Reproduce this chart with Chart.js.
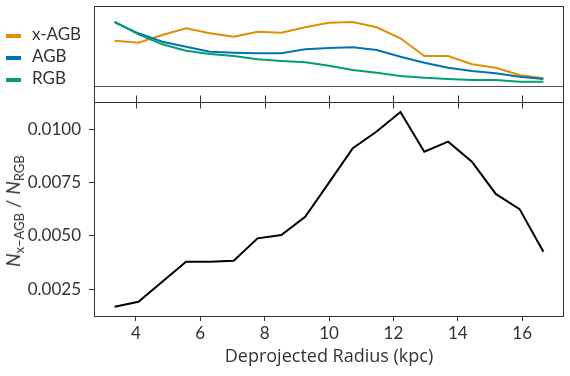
<!DOCTYPE html>
<html>
<head>
<meta charset="utf-8">
<script src="https://cdn.jsdelivr.net/npm/chart.js@4.4.0/dist/chart.umd.min.js"></script>
<style>
  html, body { margin: 0; padding: 0; background: #fff; }
  #wrap { position: relative; width: 570px; height: 376px; font-family: Lato, sans-serif; color: #333; }
  #chart { position: absolute; left: 0; top: 0; }
  .legend-item { position: absolute; left: 6px; height: 22px; line-height: 22px; font-size: 17px; white-space: nowrap; }
  .legend-item .swatch { display: inline-block; width: 15px; height: 4px; vertical-align: middle; margin-right: 11px; }
  #ylabel { position: absolute; left: 14px; top: 211px; transform: translate(-50%, -50%) rotate(-90deg); white-space: nowrap; font-size: 19px; }
  #ylabel sub { font-size: 13px; vertical-align: -4px; }
</style>
</head>
<body>
<div id="wrap">
  <canvas id="chart" width="570" height="376"></canvas>
  <div id="legend"></div>
  <div id="ylabel"><i>N</i><sub>x−AGB</sub> / <i>N</i><sub>RGB</sub></div>
</div>
<script>
// radial bins (kpc)
const radii = [3.34, 4.08, 4.82, 5.56, 6.30, 7.04, 7.78, 8.52, 9.26, 10.00,
               10.74, 11.48, 12.22, 12.96, 13.70, 14.44, 15.18, 15.92, 16.66];

// top panel: relative counts per bin (arbitrary units, 0 = reference line)
const xagbCounts = [45.3, 43.3, 51, 57.7, 52.7, 49.3, 54.3, 53.3, 58.7, 63.3,
                    64, 58.7, 47.7, 30, 30, 21.7, 18.3, 11, 7.7];
const agbCounts  = [63.7, 52.7, 44.3, 39.3, 34.3, 33.3, 32.7, 32.7, 36.7, 38,
                    38.7, 36, 29.3, 23.3, 18.3, 15, 12.7, 9.3, 7];
const rgbCounts  = [64.3, 51.7, 41.7, 35.3, 32, 30, 26.7, 25, 23.7, 20.3,
                    16, 13.3, 10, 8.3, 7, 6, 6, 4.3, 4.3];

// bottom panel: N_xAGB / N_RGB
const ratio = [0.00168, 0.00192, 0.00286, 0.00379, 0.00379, 0.00384, 0.00489, 0.00505, 0.00590, 0.00750,
               0.00911, 0.00990, 0.01081, 0.00895, 0.00942, 0.00848, 0.00697, 0.00626, 0.00426];

const xTicks = [4, 6, 8, 10, 12, 14, 16];
const ratioTicks = [0.0025, 0.0050, 0.0075, 0.0100];

const seriesNames = ['x-AGB', 'AGB', 'RGB'];
const seriesColors = ['#de8f05', '#0173b2', '#029e73'];
const seriesData = [xagbCounts, agbCounts, rgbCounts];

const toPoints = vals => vals.map((v, i) => ({ x: radii[i], y: v }));

// legend as html
const legendEl = document.getElementById('legend');
seriesNames.forEach((name, i) => {
  const item = document.createElement('div');
  item.className = 'legend-item';
  item.style.top = (23 + i * 22) + 'px';
  item.innerHTML = '<span class="swatch" style="background:' + seriesColors[i] + '"></span>' + name;
  legendEl.appendChild(item);
});

// frames around both panels + ticks on the shared spine
const panelFrames = {
  id: 'panelFrames',
  afterDraw(chart) {
    const { ctx, chartArea: { left, right }, scales: { x, yTop, yBot } } = chart;
    ctx.save();
    ctx.strokeStyle = '#333';
    ctx.lineWidth = 1;
    [yTop, yBot].forEach(s => {
      ctx.strokeRect(Math.round(left) + 0.5, Math.round(s.top) + 0.5,
                     Math.round(right - left) - 1, Math.round(s.bottom - s.top));
    });
    const yb = Math.round(yBot.top) + 0.5;
    ctx.beginPath();
    x.ticks.forEach(t => {
      const px = Math.round(x.getPixelForValue(t.value)) + 0.5;
      ctx.moveTo(px, yb - 7);
      ctx.lineTo(px, yb + 6);
    });
    ctx.stroke();
    ctx.restore();
  }
};

const datasets = seriesNames.map((name, i) => ({
  label: name,
  data: toPoints(seriesData[i]),
  yAxisID: 'yTop',
  borderColor: seriesColors[i],
  borderWidth: 2,
  pointRadius: 0,
  order: 2 - i
}));
datasets.push({
  label: 'ratio',
  data: toPoints(ratio),
  yAxisID: 'yBot',
  borderColor: '#000',
  borderWidth: 2,
  pointRadius: 0
});

// fixed axis sizes so both panels line up with the reference
const fixWidth = s => { s.width = 94; s.paddingTop = 0; s.paddingBottom = 0; };

new Chart(document.getElementById('chart'), {
  type: 'line',
  data: { datasets: datasets },
  options: {
    responsive: false,
    animation: false,
    layout: { padding: { top: 6, right: 6, left: 0, bottom: 0 } },
    plugins: { legend: { display: false }, tooltip: { enabled: false } },
    scales: {
      x: {
        type: 'linear',
        min: 2.7,
        max: 17.3,
        afterBuildTicks: s => { s.ticks = xTicks.map(v => ({ value: v })); },
        afterFit: s => { s.height = 60; s.paddingLeft = 0; s.paddingRight = 0; },
        grid: { drawOnChartArea: false, tickLength: 5, tickColor: '#333' },
        border: { display: false },
        ticks: { font: { family: 'Lato', size: 17 }, color: '#333', padding: 2, maxRotation: 0 },
        title: {
          display: true,
          text: 'Deprojected Radius (kpc)',
          font: { family: 'Open Sans', size: 18 },
          color: '#333',
          padding: { top: 0, bottom: 8 }
        }
      },
      // the first axis of a stack is placed at the bottom
      yBot: {
        type: 'linear',
        position: 'left',
        stack: 'panels',
        stackWeight: 214,
        min: 0.00125,
        max: 0.01128,
        afterBuildTicks: s => { s.ticks = ratioTicks.map(v => ({ value: v })); },
        afterFit: fixWidth,
        ticks: {
          font: { family: 'Lato', size: 17 },
          color: '#333',
          padding: 8,
          callback: v => Number(v).toFixed(4)
        },
        grid: { drawOnChartArea: false, tickLength: 5, tickColor: '#333' },
        border: { display: false }
      },
      yTop: {
        type: 'linear',
        position: 'left',
        stack: 'panels',
        stackWeight: 96,
        min: -16,
        max: 80,
        afterBuildTicks: s => { s.ticks = [{ value: 0 }]; },
        afterFit: fixWidth,
        ticks: { display: false },
        grid: { color: '#555', lineWidth: 1, drawTicks: false },
        border: { display: false }
      }
    }
  },
  plugins: [panelFrames]
});
</script>
</body>
</html>
